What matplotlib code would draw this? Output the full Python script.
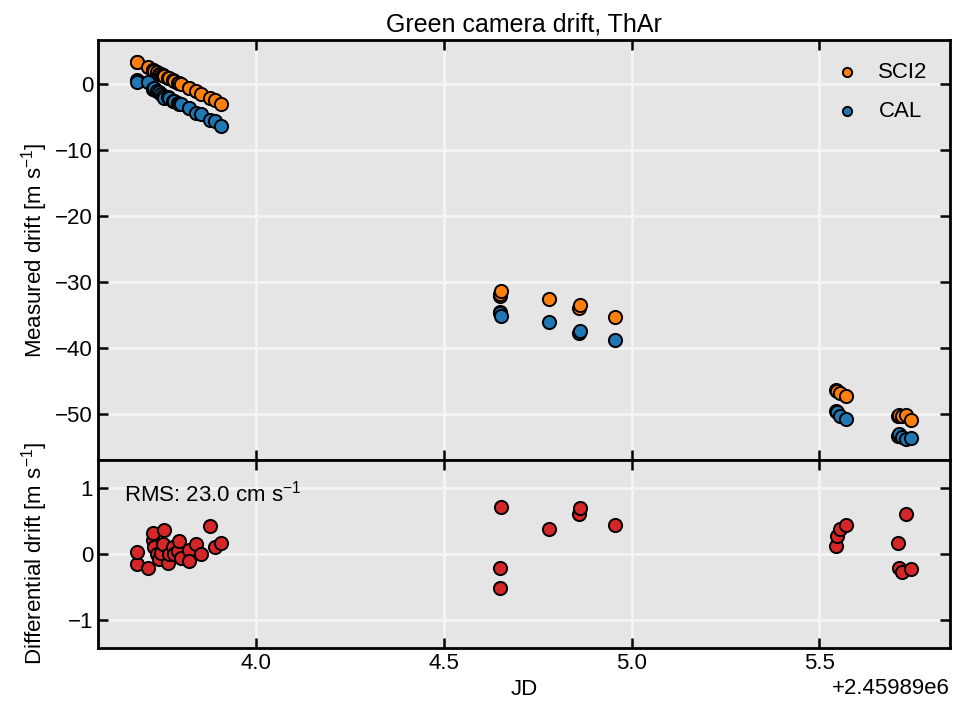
import numpy as np
import matplotlib
matplotlib.use("Agg")
import matplotlib.pyplot as plt
from matplotlib import font_manager

# font: condensed look if available
names = {f.name for f in font_manager.fontManager.ttflist}
family = "Liberation Sans Narrow" if "Liberation Sans Narrow" in names else "Liberation Sans"
plt.rcParams['font.family'] = [family, 'DejaVu Sans']
plt.rcParams['mathtext.fontset'] = 'custom'
plt.rcParams['mathtext.rm'] = family
plt.rcParams['mathtext.it'] = family + ':italic'

JD_OFFSET = 2459890.0

# times (JD - offset), drifts in m/s
t = np.array([3.682, 3.683, 3.711, 3.725, 3.726, 3.727, 3.736, 3.742, 3.747,
              3.751, 3.756, 3.765, 3.769, 3.778, 3.781, 3.791, 3.794, 3.800,
              3.820, 3.821, 3.839, 3.854, 3.876, 3.890, 3.906,
              4.649, 4.650, 4.653, 4.779, 4.859, 4.863, 4.955,
              5.544, 5.546, 5.556, 5.570,
              5.710, 5.712, 5.719, 5.730, 5.745])

sci2 = np.array([3.3, 3.3, 2.6, 2.1, 2.1, 2.0, 1.8, 1.6, 1.5,
                 1.4, 1.2, 1.0, 0.9, 0.6, 0.5, 0.2, 0.2, 0.0,
                 -0.6, -0.6, -1.1, -1.5, -2.1, -2.4, -3.0,
                 -32.1, -31.9, -31.4, -32.6, -34.0, -33.5, -35.3,
                 -46.4, -46.5, -46.9, -47.3,
                 -50.3, -50.2, -50.4, -50.2, -50.9])

cal = np.array([0.6, 0.3, 0.3, -0.7, -0.8, -0.6, -1.1, -1.2, -1.5,
                -1.8, -2.1, -1.9, -2.1, -2.5, -2.5, -2.9, -3.0, -3.0,
                -3.6, -3.6, -4.3, -4.6, -5.5, -5.6, -6.3,
                -34.5, -34.7, -35.2, -36.1, -37.8, -37.4, -38.8,
                -49.6, -49.8, -50.3, -50.8,
                -53.4, -53.1, -53.5, -53.8, -53.7])

diff = np.array([-0.15, 0.03, -0.21, 0.21, 0.31, 0.10, 0.0, -0.08, 0.02,
                 0.15, 0.36, -0.13, 0.0, 0.10, 0.0, 0.05, 0.20, -0.06,
                 0.06, -0.11, 0.15, 0.0, 0.42, 0.10, 0.16,
                 -0.51, -0.21, 0.70, 0.38, 0.60, 0.69, 0.44,
                 0.12, 0.27, 0.37, 0.43,
                 0.16, -0.21, -0.27, 0.60, -0.23])

rms_cm = 23.0

jd = JD_OFFSET + t

fig = plt.figure(figsize=(9.55, 7.11), dpi=100)
gs = fig.add_gridspec(2, 1, height_ratios=[2.23, 1], hspace=0,
                      left=0.1026, right=0.9948, top=0.9437, bottom=0.0886)
ax1 = fig.add_subplot(gs[0])
ax2 = fig.add_subplot(gs[1], sharex=ax1)

for ax in (ax1, ax2):
    ax.set_facecolor('#e5e5e5')
    ax.grid(True, color='#f4f4f4', linewidth=2)
    ax.set_axisbelow(True)
    ax.tick_params(direction='in', top=True, right=True, length=7, width=1.8,
                   labelsize=16)
    for sp in ax.spines.values():
        sp.set_linewidth(2)

kw = dict(s=90, edgecolors='black', linewidths=1.4, zorder=3)
ax1.scatter(jd, sci2, color='#ff7f0e', label='SCI2', **kw)
ax1.scatter(jd, cal, color='#1f77b4', label='CAL', **kw)
ax1.set_ylim(-57.0, 6.7)
ax1.set_ylabel('Measured drift [m s$^{-1}$]', fontsize=16)
ax1.set_title('Green camera drift, ThAr', fontsize=18)
ax1.legend(loc='upper right', frameon=False, fontsize=16, markerscale=0.7,
           handletextpad=0.4, labelspacing=0.8, borderaxespad=0.6)
plt.setp(ax1.get_xticklabels(), visible=False)

ax2.scatter(jd, diff, color='#d62728', **kw)
ax2.set_ylim(-1.42, 1.42)
ax2.set_ylabel('Differential drift [m s$^{-1}$]', fontsize=16)
ax2.set_xlabel('JD', fontsize=16)
ax2.xaxis.get_offset_text().set_fontsize(16)
ax2.text(0.03, 0.82, 'RMS: %.1f cm s$^{-1}$' % rms_cm, transform=ax2.transAxes,
         fontsize=16, va='center')

fig.align_ylabels([ax1, ax2])
plt.savefig('out.png', dpi=100)
